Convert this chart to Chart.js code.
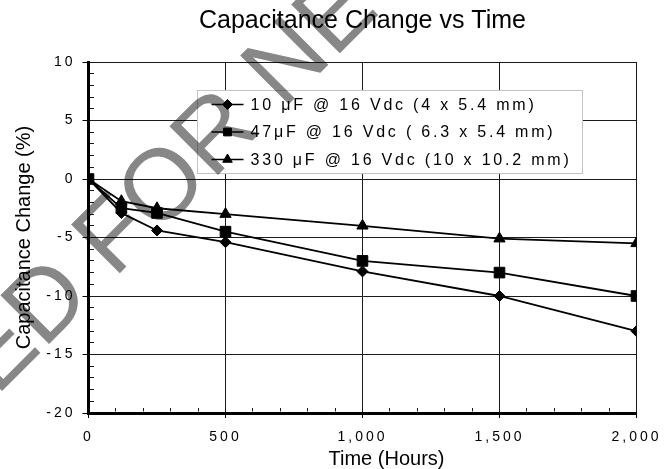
<!DOCTYPE html>
<html>
<head>
<meta charset="utf-8">
<script src="https://cdn.jsdelivr.net/npm/chart.js@4"></script>
<style>
  html, body { margin: 0; padding: 0; background: #fff; }
  #wrap { width: 665px; height: 469px; position: relative; }
</style>
</head>
<body>
<div id="wrap"><canvas id="myChart"></canvas></div>
<script>
const hours = [0, 120, 250, 500, 1000, 1500, 2000];
const cap10uF = [0, -2.9, -4.4, -5.4, -7.9, -10, -13];
const cap47uF = [0, -2.5, -2.9, -4.5, -7, -8, -10];
const cap330uF = [0, -1.9, -2.5, -3, -4, -5.1, -5.5];
const seriesLabels = [
    '10 \u03bcF @ 16 Vdc (4 x 5.4 mm)',
    '47\u03bcF @ 16 Vdc ( 6.3 x 5.4 mm)',
    '330 \u03bcF @ 16 Vdc (10 x 10.2 mm)'
];
const yTicks = [-20, -15, -10, -5, 0, 5, 10];
const xTicks = [0, 500, 1000, 1500, 2000];

const FONT = "'Liberation Sans', Arial, sans-serif";
Chart.defaults.font.family = FONT;
Chart.defaults.color = '#000';

function points(ys) {
    return hours.map((h, i) => ({ x: h, y: ys[i] }));
}

function drawMarker(ctx, style, radius, x, y) {
    if (Chart.helpers && Chart.helpers.drawPoint) {
        Chart.helpers.drawPoint(ctx, { pointStyle: style, radius: radius, rotation: 0, borderWidth: 1 }, x, y);
        return;
    }
    ctx.beginPath();
    ctx.arc(x, y, radius, 0, Math.PI * 2);
    ctx.fill();
}

// tick labels are drawn after the datasets (ticks.z = 1), so spacing is switched on only for them
const spacing = {
    id: 'spacing',
    afterDatasetsDraw(chart) {
        chart.ctx.letterSpacing = '3px';
    },
    afterDraw(chart) {
        chart.ctx.letterSpacing = '0px';
    }
};

const extras = {
    id: 'extras',
    afterDraw(chart) {
        const ctx = chart.ctx;
        const area = chart.chartArea;

        // legend box
        const lx = area.left + 109, ly = area.top + 28.5, lw = 385, lh = 83;
        ctx.save();
        ctx.fillStyle = '#fff';
        ctx.fillRect(lx, ly, lw, lh);
        ctx.strokeStyle = '#c4c4c4';
        ctx.lineWidth = 1;
        ctx.strokeRect(lx, ly, lw, lh);
        const rows = [14, 41.5, 69];
        const sizes = [5, 5.5, 5.5];
        chart.data.datasets.forEach((ds, i) => {
            const y = ly + rows[i];
            ctx.strokeStyle = '#000';
            ctx.fillStyle = '#000';
            ctx.lineWidth = 1.6;
            ctx.beginPath();
            ctx.moveTo(lx + 14, y);
            ctx.lineTo(lx + 46, y);
            ctx.stroke();
            ctx.lineWidth = 1;
            drawMarker(ctx, ds.pointStyle, sizes[i], lx + 30, y);
            ctx.font = '16px ' + FONT;
            ctx.letterSpacing = '2.8px';
            ctx.textAlign = 'left';
            ctx.textBaseline = 'middle';
            ctx.fillText(ds.label, lx + 53, y + 1);
        });
        ctx.restore();

        // x axis title, set right of the plot centre as in the original
        ctx.save();
        ctx.letterSpacing = '0px';
        ctx.font = '20px ' + FONT;
        ctx.fillStyle = '#000';
        ctx.textAlign = 'center';
        ctx.textBaseline = 'middle';
        ctx.fillText('Time (Hours)', area.left + 298, 459);
        ctx.restore();

        // grey watermark across the plot
        ctx.save();
        ctx.globalCompositeOperation = 'multiply';
        ctx.fillStyle = '#878787';
        ctx.font = '100px ' + FONT;
        ctx.letterSpacing = '0px';
        ctx.textBaseline = 'alphabetic';
        ctx.translate(114, 279);
        ctx.rotate(-Math.PI / 4);
        ctx.textAlign = 'left';
        ctx.fillText('FOR NEW DESIGN', 0, 0);
        ctx.textAlign = 'right';
        ctx.fillText('NOT RECOMMENDED ', 0, 0);
        ctx.restore();
    }
};

const ctx = document.getElementById('myChart');
const chart = new Chart(ctx, {
    type: 'scatter',
    data: {
        datasets: [{
            label: seriesLabels[0],
            data: points(cap10uF),
            pointStyle: 'rectRot',
            pointRadius: 5.5
        }, {
            label: seriesLabels[1],
            data: points(cap47uF),
            pointStyle: 'rect',
            pointRadius: 7.5
        }, {
            label: seriesLabels[2],
            data: points(cap330uF),
            pointStyle: 'triangle',
            pointRadius: 6.5
        }].map(d => Object.assign(d, {
            showLine: true,
            borderColor: '#000',
            backgroundColor: '#000',
            borderWidth: 1.8,
            pointBorderWidth: 1,
            pointHoverRadius: d.pointRadius
        }))
    },
    plugins: [spacing, extras],
    options: {
        responsive: true,
        maintainAspectRatio: false,
        animation: false,
        events: [],
        layout: { padding: { left: 0, right: 26, top: 6, bottom: 0 } },
        plugins: {
            legend: { display: false },
            tooltip: { enabled: false },
            title: {
                display: true,
                text: 'Capacitance Change vs Time',
                fullSize: false,
                font: { size: 25, weight: 'normal' },
                color: '#000',
                padding: { top: 0, bottom: 26 }
            }
        },
        scales: {
            x: {
                type: 'linear',
                min: 0,
                max: 2000,
                afterFit: s => { s.height = 56; },
                afterBuildTicks: s => {
                    s.ticks = [];
                    for (let v = 0; v <= 2000; v += 100) s.ticks.push({ value: v });
                },
                ticks: {
                    autoSkip: false,
                    maxRotation: 0,
                    padding: 11,
                    z: 1,
                    font: { size: 14 },
                    callback: v => xTicks.includes(v) ? v.toLocaleString('en-US') : ''
                },
                grid: {
                    color: '#1a1a1a',
                    lineWidth: 1,
                    tickLength: 5,
                    tickColor: c => xTicks.includes(c.tick.value) ? '#000' : 'rgba(0,0,0,0)'
                },
                border: {
                    color: '#000',
                    width: 3,
                    // minor ticks: only the last few pixels of the grid line, just above the axis
                    dash: c => {
                        if (xTicks.includes(c.tick.value)) return [];
                        const a = c.chart.chartArea;
                        return [0, a.bottom - a.top - 5, 3.5, 3000];
                    }
                }
            },
            y: {
                min: -20,
                max: 10,
                afterFit: s => { s.width = 88.5; },
                afterBuildTicks: s => {
                    s.ticks = [];
                    for (let v = -20; v <= 10; v += 1) s.ticks.push({ value: v });
                },
                ticks: {
                    autoSkip: false,
                    padding: 7,
                    z: 1,
                    font: { size: 14 },
                    callback: v => yTicks.includes(v) ? String(v) : ''
                },
                grid: {
                    color: '#1a1a1a',
                    lineWidth: 1,
                    tickLength: 6,
                    tickColor: c => yTicks.includes(c.tick.value) ? '#000' : 'rgba(0,0,0,0)'
                },
                border: {
                    color: '#000',
                    width: 3,
                    dash: c => yTicks.includes(c.tick.value) ? [] : [4, 3000]
                },
                title: {
                    display: true,
                    text: 'Capacitance Change (%)',
                    font: { size: 20 },
                    color: '#000',
                    padding: { top: 12, bottom: 0 }
                }
            }
        }
    }
});
</script>
</body>
</html>
